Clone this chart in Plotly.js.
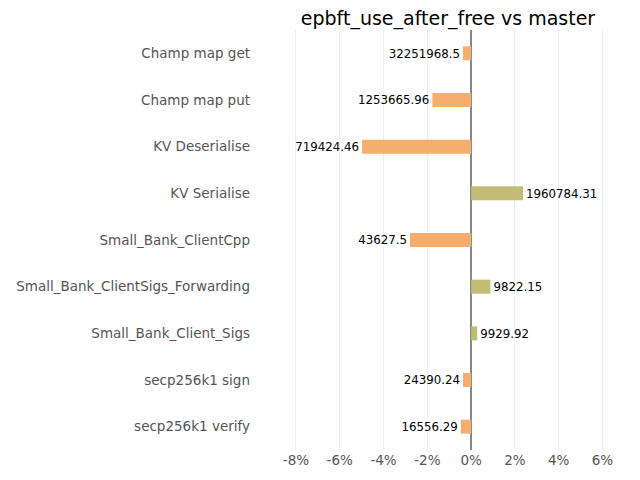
<!DOCTYPE html>
<html>
<head>
<script src="https://cdn.plot.ly/plotly-3.0.1.min.js"></script>
<style>body{margin:0}</style>
</head>
<body>
<div id="chart" style="width:640px;height:480px"></div>
<script>
const categories = ["Champ map get", "Champ map put", "KV Deserialise", "KV Serialise",
    "Small_Bank_ClientCpp", "Small_Bank_ClientSigs_Forwarding", "Small_Bank_Client_Sigs",
    "secp256k1 sign", "secp256k1 verify"];
const changePct = [-0.37, -1.77, -4.98, 2.37, -2.79, 0.88, 0.28, -0.37, -0.47];
const rawValues = ["32251968.5", "1253665.96", "719424.46", "1960784.31", "43627.5",
    "9822.15", "9929.92", "24390.24", "16556.29"];
const tickVals = [-0.08, -0.06, -0.04, -0.02, 0, 0.02, 0.04, 0.06];
const tickText = ["-8%", "-6%", "-4%", "-2%", "0%", "2%", "4%", "6%"];

const colors = changePct.map(v => v < 0 ? "#f5ae6e" : "#c3bc74");

const trace = {
    type: "bar",
    orientation: "h",
    y: categories,
    x: changePct.map(v => v / 100),
    text: rawValues,
    textposition: "outside",
    textfont: {color: "#000", size: 13.5},
    cliponaxis: false,
    marker: {color: colors},
    width: 0.3,
    hoverinfo: "none"
};

const layout = {
    width: 640, height: 480,
    margin: {l: 285, r: 20, t: 30, b: 30},
    title: {text: "epbft_use_after_free vs master", x: 0.7, xanchor: "center", y: 0.975,
        font: {size: 19, color: "#000", family: "DejaVu Sans"}},
    font: {family: "DejaVu Sans", color: "#555", size: 13.5},
    showlegend: false,
    plot_bgcolor: "#fff",
    xaxis: {range: [-0.085, 0.068], tickvals: tickVals, ticktext: tickText,
        gridcolor: "#f0f0f0", zeroline: true, zerolinecolor: "#888", zerolinewidth: 2},
    yaxis: {autorange: "reversed", ticklabelstandoff: 34, showgrid: false}
};

Plotly.newPlot("chart", [trace], layout, {displayModeBar: false});
</script>
</body>
</html>
